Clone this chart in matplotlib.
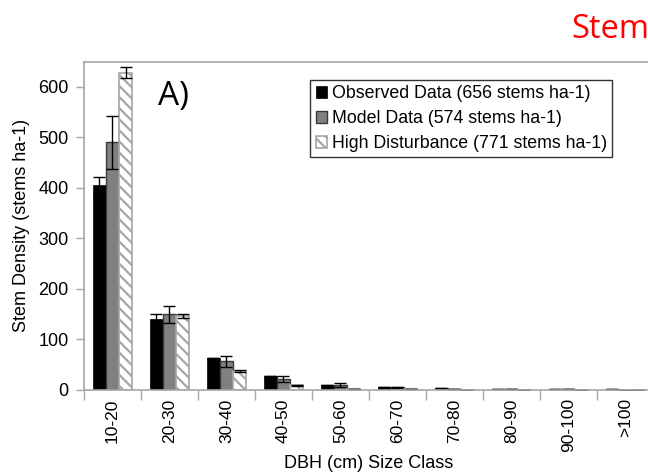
import numpy as np
import matplotlib
matplotlib.use("Agg")
from matplotlib import pyplot as plt
from matplotlib import font_manager

# size classes and stem densities (stems ha-1)
classes = ["10-20", "20-30", "30-40", "40-50", "50-60", "60-70", "70-80", "80-90", "90-100", ">100"]
observed = [405, 141, 64, 27, 10, 5, 3, 1.5, 1.5, 1.5]
observed_err = [16, 9, 0, 0, 0, 0, 0, 0, 0, 0]
model = [490, 150, 57, 21, 10, 5, 2, 1, 1, 0.5]
model_err = [52, 17, 11, 6, 4, 1, 0, 0, 0, 0]
high_dist = [628, 147, 38, 9, 2, 1, 0.5, 0.5, 0.5, 0.5]
high_dist_err = [11, 4, 2, 1, 0, 0, 0, 0, 0, 0]

labels = ["Observed Data (656 stems ha-1)",
          "Model Data (574 stems ha-1)",
          "High Disturbance (771 stems ha-1)"]

names = [f.name for f in font_manager.fontManager.ttflist]
narrow = "Liberation Sans Narrow" if "Liberation Sans Narrow" in names else "Liberation Sans"
plt.rcParams["font.family"] = [narrow, "DejaVu Sans"]
plt.rcParams["hatch.color"] = "#a6a6a6"
plt.rcParams["hatch.linewidth"] = 1.6

fig = plt.figure(figsize=(6.48, 4.73), dpi=100)
ax = fig.add_axes([0.1296, 0.1755, 1.009 - 0.1296, 0.8696 - 0.1755])

x = np.arange(len(classes))
w = 0.23
errkw = dict(ecolor="black", elinewidth=1, capsize=4, capthick=1)

b1 = ax.bar(x - w, observed, w, color="black", edgecolor="black", linewidth=0.5,
            yerr=observed_err, error_kw=errkw, label=labels[0])
b2 = ax.bar(x, model, w, color="#808080", edgecolor="#3a3a3a", linewidth=1,
            yerr=model_err, error_kw=errkw, label=labels[1])
b3 = ax.bar(x + w, high_dist, w, color="white", edgecolor="#a6a6a6", linewidth=1.2,
            hatch="\\\\\\", yerr=high_dist_err, error_kw=errkw, label=labels[2])

ax.set_xlim(-0.5, len(classes) - 0.5)
ax.set_ylim(0, 650)
ax.set_yticks(range(0, 601, 100))

# category boundaries carry the tick marks, centres carry the labels
ax.set_xticks(np.arange(len(classes) + 1) - 0.5)
ax.set_xticklabels([])
ax.set_xticks(x, minor=True)
ax.set_xticklabels(classes, minor=True, rotation=90, fontsize=12.5)
ax.tick_params(axis="x", which="major", length=7, color="#a6a6a6", width=1)
ax.tick_params(axis="x", which="minor", length=0, pad=6)
ax.tick_params(axis="y", length=6, color="#a6a6a6", width=1, labelsize=13, pad=5)

for side in ["left", "bottom", "top", "right"]:
    ax.spines[side].set_color("#a6a6a6")
    ax.spines[side].set_linewidth(1.2)

ax.set_ylabel("Stem Density (stems ha-1)", fontsize=13, labelpad=6)
ax.set_xlabel("DBH (cm) Size Class", fontsize=13, labelpad=2)

leg = ax.legend(loc="upper left", bbox_to_anchor=(0.397, 0.945), fontsize=12.8,
                frameon=True, fancybox=False, edgecolor="black", handlelength=0.65,
                handleheight=0.65, handletextpad=0.25, borderpad=0.3, labelspacing=0.45,
                borderaxespad=0)
leg.get_frame().set_linewidth(1)

ax.text(0.13, 0.895, "A)", transform=ax.transAxes, fontsize=24,
        family=["Open Sans", "DejaVu Sans"], va="center", ha="left")

fig.text(571 / 648, 1 - 29 / 473, "Stem", color="#ff0000", fontsize=23.5,
         family=["Open Sans", "DejaVu Sans"], va="center", ha="left")

fig.savefig("out.png", dpi=100)
